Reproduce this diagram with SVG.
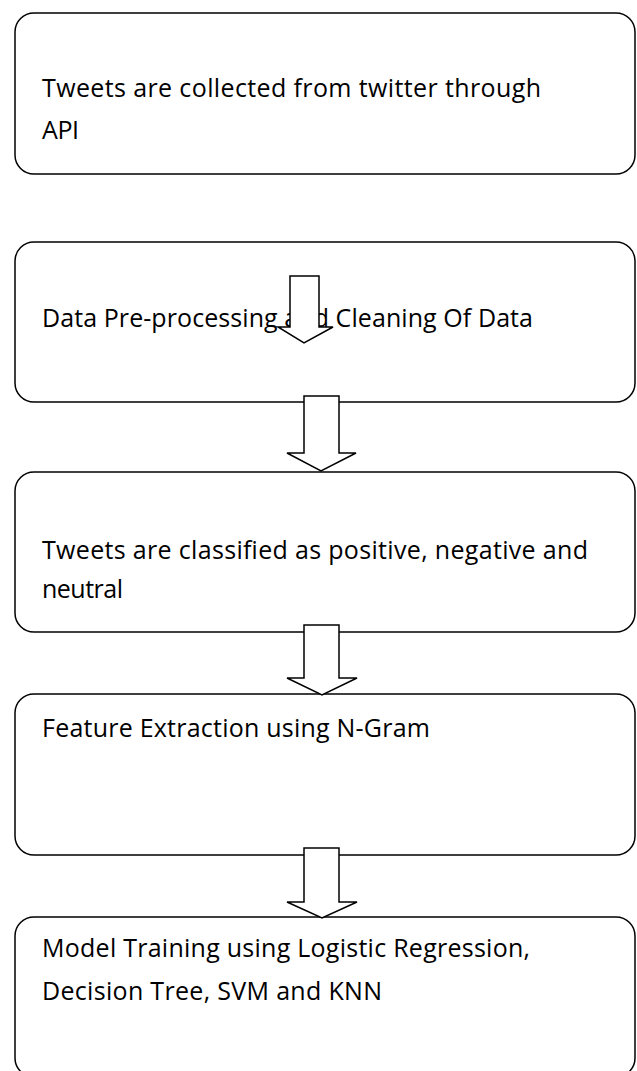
<svg xmlns="http://www.w3.org/2000/svg" width="637" height="1071" viewBox="0 0 637 1071">
<style>
.box{fill:#fff;stroke:#000;stroke-width:1.5}
.arr{fill:#fff;stroke:#000;stroke-width:1.5;stroke-linejoin:miter}
.t{font-family:"Open Sans","Noto Sans",sans-serif;font-size:25px;fill:#000}
</style>
<rect width="637" height="1071" fill="#fff"/>
<g id="node1"><rect class="box" x="15" y="13" width="620" height="161" rx="19"/>
<text class="t" x="42" y="97" textLength="499">Tweets are collected from twitter through</text>
<text class="t" x="42" y="139" textLength="37">API</text></g>
<g id="node2"><rect class="box" x="15" y="242" width="620" height="160" rx="19"/>
<text class="t" x="42" y="327" textLength="491">Data Pre-processing and Cleaning Of Data</text></g>
<g id="node3"><rect class="box" x="15" y="472" width="620" height="160" rx="19"/>
<text class="t" x="42" y="559" textLength="546">Tweets are classified as positive, negative and</text>
<text class="t" x="42" y="598" textLength="81">neutral</text></g>
<g id="node4"><rect class="box" x="15" y="694" width="620" height="161" rx="19"/>
<text class="t" x="42" y="737" textLength="388">Feature Extraction using N-Gram</text></g>
<g id="node5"><rect class="box" x="15" y="917" width="620" height="160" rx="19"/>
<text class="t" x="42" y="957" textLength="488">Model Training using Logistic Regression,</text>
<text class="t" x="42" y="1000" textLength="340">Decision Tree, SVM and KNN</text></g>
<g id="connectors">
<path class="arr" d="M290,276 H319 V327 H333 L304,343 L278,327 H290 Z"/>
<path class="arr" d="M304,396 H339 V453 H356 L321,471 L287,453 H304 Z"/>
<path class="arr" d="M304,625 H339 V678 H357 L322,695 L287,678 H304 Z"/>
<path class="arr" d="M304,848 H339 V902 H357 L322,918 L287,902 H304 Z"/>
</g>
</svg>
